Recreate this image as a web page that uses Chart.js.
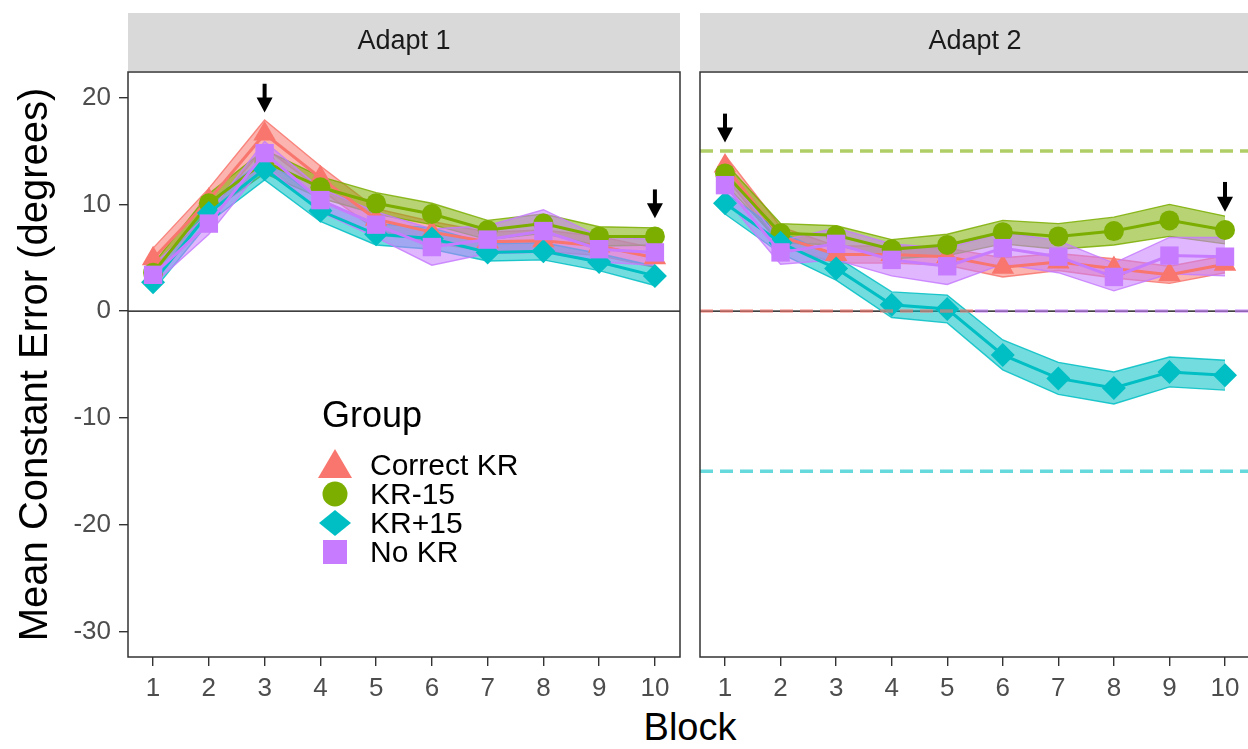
<!DOCTYPE html>
<html lang="en">
<head>
<meta charset="UTF-8">
<title>Mean Constant Error by Block</title>
<style>
    body {
        margin: 0;
        width: 1248px;
        height: 749px;
        overflow: hidden;
        position: relative;
        background: #ffffff;
        font-family: 'Liberation Sans', Arial, sans-serif;
    }
    #adapt1 { position: absolute; left: 0; top: 0; }
    #adapt2 { position: absolute; left: 690px; top: 0; }
    #xTitle {
        position: absolute;
        left: 590px;
        width: 200px;
        top: 706px;
        text-align: center;
        font-size: 38px;
        color: #000;
    }
</style>
</head>
<body>
<canvas id="adapt1" width="690" height="700"></canvas>
<canvas id="adapt2" width="560" height="700"></canvas>
<div id="xTitle">Block</div>

<script src="https://cdn.jsdelivr.net/npm/chart.js"></script>
<script>
    const blocks = [1, 2, 3, 4, 5, 6, 7, 8, 9, 10];
    const groupNames = ['Correct KR', 'KR-15', 'KR+15', 'No KR'];
    const panelTitles = ['Adapt 1', 'Adapt 2'];
    const yTickValues = [-30, -20, -10, 0, 10, 20];

    // Adapt 1 - group means
    const correctKR1 = [4.9, 10.4, 16.6, 12.5, 8.6, 7.4, 6.5, 6.6, 6.1, 5.0];
    const krMinus1 = [3.6, 10.1, 14.0, 11.6, 10.1, 9.1, 7.6, 8.2, 7.0, 7.0];
    const krPlus1 = [2.7, 9.2, 13.3, 9.4, 7.2, 6.8, 5.5, 5.6, 4.6, 3.3];
    const noKR1 = [3.4, 8.2, 14.8, 10.4, 8.1, 6.0, 6.7, 7.5, 5.8, 5.5];
    // Adapt 1 - standard errors (ribbon half-width)
    const correctKRse1 = [1.0, 1.1, 1.3, 1.1, 1.0, 1.0, 0.9, 1.0, 0.9, 0.9];
    const krMinusSe1 = [0.8, 0.9, 1.1, 1.0, 1.0, 1.0, 0.9, 0.9, 0.9, 0.8];
    const krPlusSe1 = [0.8, 0.9, 1.0, 1.0, 1.0, 1.0, 0.8, 0.8, 0.8, 0.9];
    const noKRse1 = [0.9, 1.0, 1.1, 1.1, 1.2, 1.7, 1.3, 2.0, 1.2, 1.2];

    // Adapt 2 - group means
    const correctKR2 = [13.6, 7.0, 5.3, 5.3, 5.1, 4.1, 4.6, 4.0, 3.4, 4.4];
    const krMinus2 = [12.9, 7.3, 7.1, 5.8, 6.2, 7.4, 7.0, 7.5, 8.5, 7.6];
    const krPlus2 = [10.1, 6.4, 4.0, 0.6, 0.2, -4.1, -6.3, -7.2, -5.7, -6.0];
    const noKR2 = [11.8, 5.5, 6.3, 4.8, 4.2, 5.9, 5.1, 3.2, 5.2, 5.1];
    // Adapt 2 - standard errors
    const correctKRse2 = [1.0, 0.9, 0.8, 0.8, 0.8, 0.9, 0.8, 0.9, 0.8, 0.8];
    const krMinusSe2 = [1.0, 0.9, 0.9, 0.9, 1.0, 1.1, 1.2, 1.3, 1.5, 1.3];
    const krPlusSe2 = [1.0, 1.0, 1.1, 1.2, 1.3, 1.4, 1.5, 1.5, 1.4, 1.4];
    const noKRse2 = [1.2, 1.1, 1.5, 1.5, 1.7, 1.5, 1.5, 1.3, 1.7, 1.8];

    // dashed target lines in Adapt 2 (value, group colour, x from, x to)
    const refValues = [15, 0, 0, -15];
    const refGroup = [1, 0, 3, 2];
    const refFrom = [0.55, 0.55, 5.5, 0.55];
    const refTo = [10.45, 5.5, 10.45, 10.45];

    // arrows marking blocks (block, tip value, tail value)
    const arrowBlocks1 = [3, 10];
    const arrowTips1 = [18.6, 8.7];
    const arrowTails1 = [21.3, 11.4];
    const arrowBlocks2 = [1, 10];
    const arrowTips2 = [15.8, 9.3];
    const arrowTails2 = [18.5, 12.1];

    const colors = ['#F8766D', '#7CAE00', '#00BFC4', '#C77CFF'];
    const shapes = ['triangle', 'circle', 'rectRot', 'rect'];
    const pointSizes = [13, 10, 12, 13];

    Chart.defaults.font.family = "'Liberation Sans', Arial, sans-serif";

    function rgba(hex, a) {
        const n = parseInt(hex.slice(1), 16);
        return `rgba(${(n >> 16) & 255}, ${(n >> 8) & 255}, ${n & 255}, ${a})`;
    }

    function buildDatasets(means, ses, withRefs) {
        const sets = [];
        for (let g = 0; g < 4; g++) {
            const lower = blocks.map((b, j) => ({ x: b, y: means[g][j] - ses[g][j] }));
            const upper = blocks.map((b, j) => ({ x: b, y: means[g][j] + ses[g][j] }));
            sets.push({
                data: lower, borderColor: rgba(colors[g], 0.85), borderWidth: 1.4,
                pointRadius: 0, fill: false, order: 24 - g
            });
            sets.push({
                data: upper, borderColor: rgba(colors[g], 0.85), borderWidth: 1.4,
                pointRadius: 0, fill: '-1', backgroundColor: rgba(colors[g], 0.55), order: 24 - g
            });
        }
        for (let g = 0; g < 4; g++) {
            sets.push({
                label: groupNames[g],
                data: blocks.map((b, j) => ({ x: b, y: means[g][j] })),
                borderColor: colors[g], borderWidth: 3,
                pointStyle: shapes[g], pointRadius: pointSizes[g],
                pointBackgroundColor: colors[g], pointBorderWidth: 0,
                fill: false, order: 4 - g
            });
        }
        if (withRefs) {
            for (let i = 0; i < refValues.length; i++) {
                sets.push({
                    data: [{ x: refFrom[i], y: refValues[i] }, { x: refTo[i], y: refValues[i] }],
                    borderColor: rgba(colors[refGroup[i]], 0.6), borderWidth: 3.5,
                    borderDash: [13, 7], pointRadius: 0, fill: false, order: 0
                });
            }
        }
        return sets;
    }

    function drawArrow(ctx, x, yTail, yTip) {
        const head = 15;
        ctx.save();
        ctx.strokeStyle = '#000';
        ctx.fillStyle = '#000';
        ctx.lineWidth = 4;
        ctx.beginPath();
        ctx.moveTo(x, yTail);
        ctx.lineTo(x, yTip - head + 2);
        ctx.stroke();
        ctx.beginPath();
        ctx.moveTo(x - 8, yTip - head);
        ctx.lineTo(x + 8, yTip - head);
        ctx.lineTo(x, yTip);
        ctx.closePath();
        ctx.fill();
        ctx.restore();
    }

    function drawKey(ctx, shape, x, y, color) {
        ctx.fillStyle = color;
        ctx.beginPath();
        if (shape === 'triangle') {
            ctx.moveTo(x, y - 16);
            ctx.lineTo(x + 17, y + 13);
            ctx.lineTo(x - 17, y + 13);
            ctx.closePath();
        } else if (shape === 'circle') {
            ctx.arc(x, y, 12.5, 0, Math.PI * 2);
        } else if (shape === 'rectRot') {
            ctx.moveTo(x, y - 13);
            ctx.lineTo(x + 16, y);
            ctx.lineTo(x, y + 13);
            ctx.lineTo(x - 16, y);
            ctx.closePath();
        } else {
            ctx.rect(x - 12, y - 12, 24, 24);
        }
        ctx.fill();
    }

    const panelDeco = {
        id: 'panelDeco',
        beforeDatasetsDraw(chart, args, opts) {
            const { ctx, chartArea: a, scales } = chart;
            const y0 = scales.y.getPixelForValue(0);
            ctx.save();
            ctx.strokeStyle = '#000';
            ctx.lineWidth = 1.4;
            ctx.beginPath();
            ctx.moveTo(a.left, y0);
            ctx.lineTo(a.right, y0);
            ctx.stroke();
            ctx.restore();
        },
        afterDraw(chart, args, opts) {
            const { ctx, chartArea: a, scales } = chart;
            ctx.save();
            // strip
            ctx.fillStyle = '#D9D9D9';
            ctx.fillRect(a.left, 13, a.right - a.left, a.top - 14);
            ctx.fillStyle = '#1A1A1A';
            ctx.font = "27px 'Liberation Sans', Arial, sans-serif";
            ctx.textAlign = 'center';
            ctx.textBaseline = 'middle';
            ctx.fillText(opts.title, (a.left + a.right) / 2, 42);
            // panel border (right edge of the last panel is cut off in the figure)
            ctx.strokeStyle = '#333333';
            ctx.lineWidth = 1.5;
            ctx.beginPath();
            if (opts.openRight) {
                ctx.moveTo(a.right + 2, a.top);
                ctx.lineTo(a.left, a.top);
                ctx.lineTo(a.left, a.bottom);
                ctx.lineTo(a.right + 2, a.bottom);
            } else {
                ctx.rect(a.left, a.top, a.right - a.left, a.bottom - a.top);
            }
            ctx.stroke();
            // arrows
            for (let i = 0; i < opts.arrowBlocks.length; i++) {
                drawArrow(ctx,
                    scales.x.getPixelForValue(opts.arrowBlocks[i]),
                    scales.y.getPixelForValue(opts.arrowTails[i]),
                    scales.y.getPixelForValue(opts.arrowTips[i]));
            }
            // legend
            if (opts.legend) {
                const lx = a.left + 194;
                ctx.fillStyle = '#000';
                ctx.textAlign = 'left';
                ctx.font = "36px 'Liberation Sans', Arial, sans-serif";
                ctx.fillText('Group', lx, 417);
                ctx.font = "30px 'Liberation Sans', Arial, sans-serif";
                for (let g = 0; g < groupNames.length; g++) {
                    const ry = 465 + g * 29;
                    drawKey(ctx, shapes[g], lx + 13, ry, colors[g]);
                    ctx.fillStyle = '#000';
                    ctx.fillText(groupNames[g], lx + 48, ry + 2);
                }
            }
            ctx.restore();
        }
    };

    function makeChart(id, means, ses, deco, leftAxis) {
        const ctx = document.getElementById(id).getContext('2d');
        return new Chart(ctx, {
            type: 'line',
            data: { datasets: buildDatasets(means, ses, !leftAxis) },
            plugins: [panelDeco],
            options: {
                responsive: false,
                animation: false,
                layout: {
                    autoPadding: false,
                    padding: { top: 72, bottom: 0, left: leftAxis ? 0 : 10, right: leftAxis ? 10 : 0 }
                },
                plugins: {
                    legend: { display: false },
                    tooltip: { enabled: false },
                    panelDeco: deco
                },
                scales: {
                    x: {
                        type: 'linear',
                        min: 0.55,
                        max: 10.45,
                        afterBuildTicks: s => { s.ticks = blocks.map(v => ({ value: v })); },
                        afterFit: s => { s.height = 43; s.paddingLeft = 0; s.paddingRight = 0; },
                        grid: { drawOnChartArea: false, tickLength: 9, color: '#333333', lineWidth: 1.4 },
                        border: { display: false },
                        ticks: { color: '#4D4D4D', font: { size: 26 }, padding: 7, maxRotation: 0, autoSkip: false }
                    },
                    y: {
                        display: leftAxis,
                        min: -32.4,
                        max: 22.4,
                        afterBuildTicks: s => { s.ticks = yTickValues.map(v => ({ value: v })); },
                        afterFit: s => { s.width = leftAxis ? 128 : 0; s.paddingTop = 0; s.paddingBottom = 0; },
                        grid: { drawOnChartArea: false, tickLength: 9, color: '#333333', lineWidth: 1.4 },
                        border: { display: false },
                        ticks: { color: '#4D4D4D', font: { size: 26 }, padding: 8 },
                        title: {
                            display: true,
                            text: 'Mean Constant Error (degrees)',
                            color: '#000',
                            font: { size: 40 },
                            padding: { top: 12, bottom: 0 }
                        }
                    }
                }
            }
        });
    }

    makeChart('adapt1',
        [correctKR1, krMinus1, krPlus1, noKR1],
        [correctKRse1, krMinusSe1, krPlusSe1, noKRse1],
        { title: panelTitles[0], arrowBlocks: arrowBlocks1, arrowTips: arrowTips1, arrowTails: arrowTails1, legend: true, openRight: false },
        true);

    makeChart('adapt2',
        [correctKR2, krMinus2, krPlus2, noKR2],
        [correctKRse2, krMinusSe2, krPlusSe2, noKRse2],
        { title: panelTitles[1], arrowBlocks: arrowBlocks2, arrowTips: arrowTips2, arrowTails: arrowTails2, legend: false, openRight: true },
        false);
</script>
</body>
</html>
